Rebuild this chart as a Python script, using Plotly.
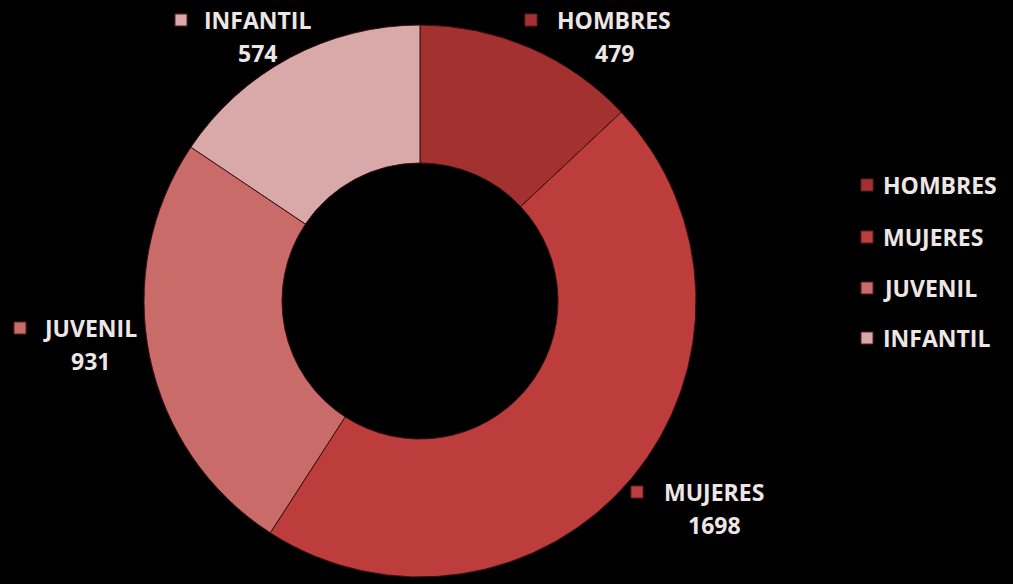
import plotly.graph_objects as go

labels = ["HOMBRES", "MUJERES", "JUVENIL", "INFANTIL"]
values = [479, 1698, 931, 574]
colors = ["#A3312F", "#BC3D3B", "#C86B69", "#D9A9A9"]

W, H = 1013, 584

def px(x):
    return x / W

def py(y):
    return 1 - y / H

# pie placed as a square in pixel terms
cx, cy, d = 420, 301, 552
dom_x = [px(cx - d / 2), px(cx + d / 2)]
dom_y = [py(cy + d / 2), py(cy - d / 2)]

fig = go.Figure(go.Pie(
    labels=labels,
    values=values,
    hole=0.5,
    sort=False,
    direction="clockwise",
    rotation=0,
    marker=dict(colors=colors, line=dict(color="#3a1010", width=1)),
    textinfo="none",
    hoverinfo="label+value",
    showlegend=False,
    domain=dict(x=dom_x, y=dom_y),
))

font_txt = dict(family="Open Sans", size=23, color="#EDE6E6")

# data label placement (square x, name centre x, name y, value y)
label_pos = {
    "HOMBRES": (531, 614, 20, 53),
    "MUJERES": (637, 714, 492, 525),
    "JUVENIL": (20, 90, 328, 361),
    "INFANTIL": (181, 257, 20, 53),
}

annotations = []
shapes = []
s = 12
for lab, val, col in zip(labels, values, colors):
    sx, nx, ny, vy = label_pos[lab]
    shapes.append(dict(type="rect", xref="paper", yref="paper",
                       x0=px(sx - s / 2), x1=px(sx + s / 2),
                       y0=py(ny + s / 2), y1=py(ny - s / 2),
                       fillcolor=col, line=dict(color="#5a2020", width=1)))
    annotations.append(dict(x=px(nx), y=py(ny), xref="paper", yref="paper",
                            text=f"<b>{lab}</b>", showarrow=False,
                            xanchor="center", yanchor="middle", font=font_txt))
    annotations.append(dict(x=px(nx), y=py(vy), xref="paper", yref="paper",
                            text=f"<b>{val}</b>", showarrow=False,
                            xanchor="center", yanchor="middle", font=font_txt))

# manual legend on the right
leg_y = [185, 237, 288, 338]
for lab, col, ly in zip(labels, colors, leg_y):
    shapes.append(dict(type="rect", xref="paper", yref="paper",
                       x0=px(867 - s / 2), x1=px(867 + s / 2),
                       y0=py(ly + s / 2), y1=py(ly - s / 2),
                       fillcolor=col, line=dict(color="#5a2020", width=1)))
    annotations.append(dict(x=px(881), y=py(ly), xref="paper", yref="paper",
                            text=f"<b>{lab}</b>", showarrow=False,
                            xanchor="left", yanchor="middle", font=font_txt))

fig.update_layout(
    width=W, height=H,
    paper_bgcolor="#000000",
    plot_bgcolor="#000000",
    margin=dict(l=0, r=0, t=0, b=0),
    annotations=annotations,
    shapes=shapes,
    showlegend=False,
)

fig.write_html(
    "out.html",
    config={"displayModeBar": False},
    post_script="document.body.style.margin='0';document.body.style.background='#000';",
)
